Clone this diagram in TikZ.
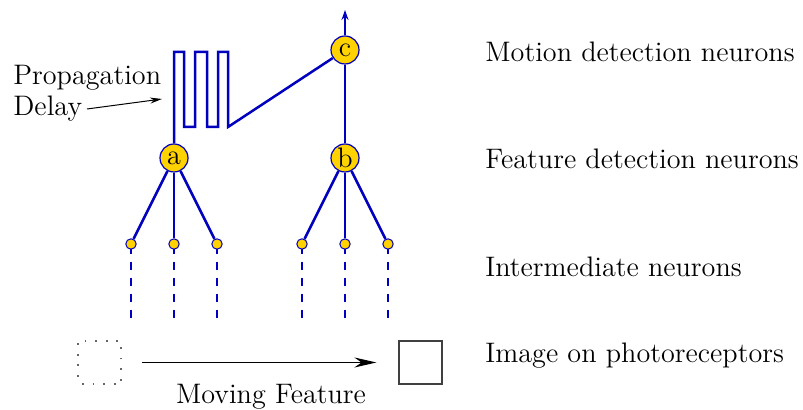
\documentclass[tikz,border=0pt]{standalone}
\usetikzlibrary{arrows.meta}
\definecolor{wire}{RGB}{0,0,190}
\definecolor{gold}{RGB}{255,210,0}
\begin{document}
\begin{tikzpicture}[x=0.5pt,y=-0.5pt,
  font=\fontsize{14.1}{17}\selectfont,
  wireline/.style={draw=wire,line width=1.25pt},
  bigneuron/.style={circle,draw=wire,fill=gold,line width=0.6pt,minimum size=14pt,inner sep=0pt},
  smallneuron/.style={circle,draw=wire,fill=gold,line width=0.5pt,minimum size=5.2pt,inner sep=0pt},
  dashline/.style={draw=wire,line width=0.55pt,dash pattern=on 4pt off 4pt},
  label/.style={anchor=base west,inner sep=0pt}]
\useasboundingbox (0,0) rectangle (803,410);
% dashed links below intermediate neurons
\foreach \n/\x in {a1/131,a2/174,a3/217,b1/302,b2/345,b3/388}{
  \coordinate (\n s) at (\x,245.7);
  \coordinate (\n e) at (\x,320);
  \draw[dashline] (\n s) -- (\n e);
}
% neurons
\node[bigneuron] (a) at (174,158) {a};
\node[bigneuron] (b) at (345,158) {b};
\node[bigneuron] (c) at (345,50) {c};
\coordinate (top) at (345,10);
\foreach \n/\x in {a1/131,a2/174,a3/217,b1/302,b2/345,b3/388}{
  \node[smallneuron] (\n) at (\x,244) {};
}
\foreach \n in {a1,a2,a3}{\draw[wireline] (a) -- (\n);}
\foreach \n in {b1,b2,b3}{\draw[wireline] (b) -- (\n);}
\draw[wireline] (b) -- (c);
\draw[wireline,-{Stealth[length=5pt,width=3.5pt]}] (c) -- (top);
% delay line
\draw[wireline,line join=miter] (a.north) -- (174,52) -- (184,52) -- (184,127) -- (195,127) -- (195,52)
  -- (207,52) -- (207,127) -- (218,127) -- (218,52) -- (228,52) -- (228,127) -- (c);
% propagation delay label
\node[label] (prop) at (13,85) {Propagation};
\node[label] (delay) at (13,116) {Delay};
\coordinate (pdstart) at (87,109);
\coordinate (pdtip) at (162,99);
\draw[line width=0.5pt,-{Stealth[length=6pt,width=3pt]}] (pdstart) -- (pdtip);
% right labels
\node[label] (l1) at (485,62) {Motion detection neurons};
\node[label] (l2) at (485,169) {Feature detection neurons};
\node[label] (l3) at (485,277) {Intermediate neurons};
\node[label] (l4) at (485,363) {Image on photoreceptors};
% image squares
\node[draw=black!60,line width=0.9pt,dash pattern=on 0.9pt off 4.4pt,dash phase=-2pt,minimum size=21.5pt,inner sep=0pt] (old) at (99.5,362.5) {};
\node[draw=black!75,line width=0.6pt,minimum size=21.5pt,inner sep=0pt] (new) at (420.5,362.5) {};
\draw[line width=0.6pt,-{Stealth[length=11pt,width=5pt]}] ([xshift=10pt]old.east) -- ([xshift=-11pt]new.west);
\node[anchor=base,inner sep=0pt] (mv) at (271,404) {Moving Feature};
\end{tikzpicture}
\end{document}
